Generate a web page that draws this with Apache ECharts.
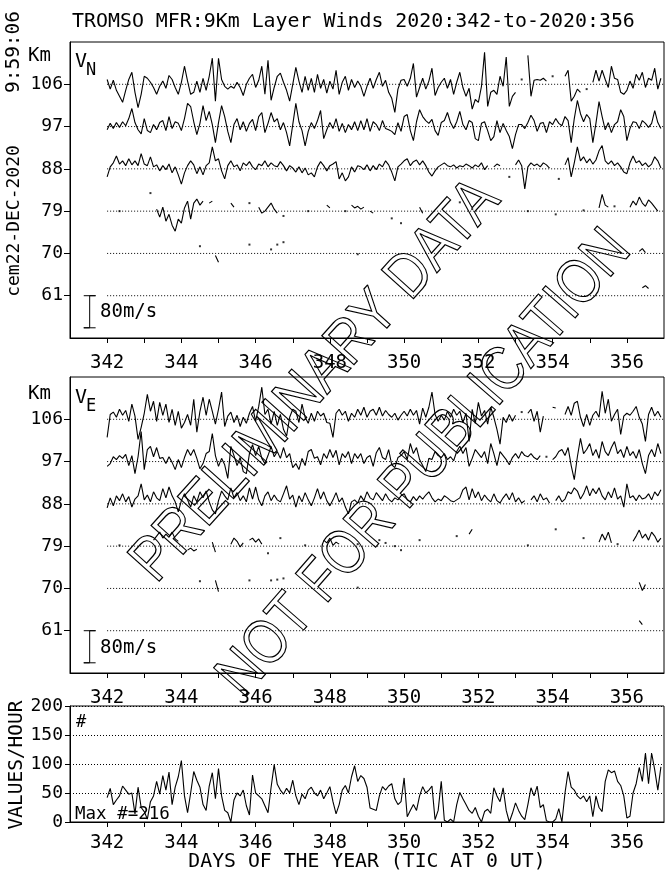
<!DOCTYPE html>
<html><head><meta charset="utf-8">
<script src="https://cdn.jsdelivr.net/npm/echarts@6/dist/echarts.min.js"></script>
<style>html,body{margin:0;padding:0;background:#fff}#c{width:672px;height:877px}</style>
</head><body><div id="c"></div>
<script>
const n = null;
// ---- axes / categories ----
const DAY_START = 342;              // first sample (day of year)
const SAMPLES_PER_DAY = 12;         // 2-hour samples
const DAY_MIN = 341, DAY_MAX = 357;
const DAY_TICKS = [342,343,344,345,346,347,348,349,350,351,352,353,354,355,356];
const DAY_LABELS = [342,344,346,348,350,352,354,356];
const ALT_LEVELS = [106,97,88,79,70,61];   // km
const ALT_MIN = 52, ALT_MAX = 115;
const COUNT_TICKS = [0,50,100,150,200];
const SCALE_MS = 80;                 // scale bar, m/s
const KM_PER_MS = 6.83 / 80;         // 80 m/s spans 6.83 km of the altitude axis

// ---- VN (northward wind, m/s) ----
const vn106 = [
 12,-12,10,-15,-30,-45,-15,12,30,-20,-58,-25,
 20,15,5,-8,-25,-5,8,-10,22,12,-8,-25,
 5,45,8,-25,-20,8,-20,15,-15,20,65,-42,
 65,12,-5,-12,-5,-10,5,-8,-28,0,15,25,
 -8,10,45,-25,60,-40,-8,20,28,5,-15,-42,
 0,42,8,-20,20,-15,15,-20,25,-10,12,-22,
 8,-12,35,-25,5,20,-15,12,-8,8,-5,-30,
 -5,15,-10,12,30,-5,10,-20,-35,-70,-12,10,
 12,-5,15,52,-32,-8,15,-12,8,40,-28,-8,
 5,15,-10,12,-25,5,30,-8,-30,-10,-62,-38,
 -45,-5,80,-55,-20,-15,-25,20,-5,68,-55,-30,
 -20,n,12,n,72,-30,10,12,10,15,8,n,
 20,n,n,n,20,35,-42,-30,-12,-20,n,-12,
 n,5,35,8,35,12,-8,45,15,12,-20,-25,
 -15,8,-10,25,10,30,-8,15,10,40,-12,15];
const vn97 = [
 -8,8,-5,10,-2,12,2,20,45,10,-8,-18,
 20,-10,-15,5,-8,10,15,-10,25,-5,12,8,
 -10,20,58,50,12,-20,8,52,15,38,5,-40,
 10,52,25,-12,-40,5,20,-8,12,-12,8,18,
 -10,25,35,-15,8,35,12,20,-8,10,-15,-48,
 5,58,12,-10,-48,-12,10,-5,15,40,-30,-8,
 10,-5,20,-12,8,-15,5,-8,12,-10,15,-8,
 20,-12,12,5,-10,15,-5,-8,-12,-20,10,-12,
 25,30,-10,-35,12,42,25,15,8,18,-10,-22,
 10,15,35,10,-5,12,38,5,-8,15,10,-30,
 -35,8,12,-10,-35,-25,15,-15,8,-10,-25,-55,
 -20,5,5,-5,10,28,15,-12,8,10,-15,12,
 5,20,8,2,25,15,-40,20,65,32,12,30,
 20,-40,8,62,25,-8,10,-15,5,12,42,25,
 -35,-5,12,10,-5,15,8,-2,8,40,10,-5];
const vn88 = [
 -20,5,15,32,12,20,8,25,10,20,8,38,
 12,8,30,5,10,-5,8,-2,12,-10,5,-15,
 -38,-10,8,20,10,-12,5,-15,8,15,55,20,
 25,-5,-25,8,20,5,10,-5,15,8,18,5,
 -2,12,8,20,5,15,8,5,18,8,-5,8,
 2,-8,5,-10,2,-15,-10,-20,5,18,8,-5,
 8,12,18,-25,-10,-30,-20,5,-8,8,5,-2,
 10,-5,8,-2,12,5,20,10,-8,-30,5,12,
 20,25,8,18,22,10,20,8,-8,-18,-5,5,
 10,15,8,5,10,2,8,5,12,8,2,10,
 5,15,-2,8,n,5,12,8,n,n,-20,n,
 10,22,8,-50,5,15,8,12,5,15,10,2,
 n,n,-25,n,10,28,-20,15,55,20,30,15,
 25,12,22,45,58,20,12,20,8,15,5,-8,
 -12,15,32,15,20,8,15,5,12,30,20,2];
const vn79 = [
 n,n,n,n,0,n,n,n,n,n,n,n,
 n,n,45,n,5,-15,10,-25,-8,-35,-50,-20,
 -30,8,25,-20,20,30,15,25,n,20,25,n,
 n,n,n,n,20,10,n,n,n,n,20,n,
 n,10,-5,0,10,20,5,-5,n,-12,n,n,
 n,n,n,n,n,0,n,n,n,n,n,15,
 8,n,n,n,n,0,n,15,8,12,5,10,
 n,0,-5,n,n,n,n,n,-18,n,n,-30,
 n,n,n,n,n,10,-5,n,n,n,n,n,
 n,n,n,n,n,n,22,n,n,n,5,n,
 n,n,n,n,n,n,n,n,n,n,n,n,
 n,n,n,n,0,n,n,n,n,n,n,n,
 n,-8,n,n,n,n,n,n,n,n,2,n,
 n,n,n,8,42,15,10,n,12,n,n,n,
 n,10,25,15,35,20,12,28,20,10,0,n];
const vn70 = [
 n,n,n,n,n,n,n,n,n,n,n,n,
 n,n,n,n,n,n,n,n,n,n,n,n,
 n,n,n,n,n,n,18,n,n,n,n,-5,
 -22,n,n,n,n,n,n,n,n,n,22,n,
 n,n,n,n,n,10,n,22,n,28,n,n,
 n,n,n,n,n,n,n,n,n,n,n,n,
 n,n,n,n,n,n,n,n,n,-2,n,n,
 n,n,n,n,n,n,n,n,n,n,n,n,
 n,n,n,n,n,n,n,n,n,n,n,n,
 n,n,n,n,n,n,n,n,n,n,n,n,
 n,n,n,n,n,n,n,n,n,n,n,n,
 n,n,n,n,n,n,n,n,n,n,n,n,
 n,n,n,n,n,n,n,n,n,n,n,n,
 n,n,n,n,n,n,n,n,n,n,n,n,
 n,n,n,n,5,12,2,n,n,n,n,n];
const vn61 = [
 n,n,n,n,n,n,n,n,n,n,n,n, n,n,n,n,n,n,n,n,n,n,n,n, n,n,n,n,n,n,n,n,n,n,n,n,
 n,n,n,n,n,n,n,n,n,n,n,n, n,n,n,n,n,n,n,n,n,n,n,n, n,n,n,n,n,n,n,n,n,n,n,n,
 n,n,n,n,n,n,n,n,n,n,n,n, n,n,n,n,n,n,n,n,n,n,n,n, n,n,n,n,n,n,n,n,n,n,n,n,
 n,n,n,n,n,n,n,n,n,n,n,n, n,n,n,n,n,n,n,n,n,n,n,n, n,n,n,n,n,n,n,n,n,n,n,n,
 n,n,n,n,n,n,n,n,n,n,n,n, n,n,n,n,n,n,n,n,n,n,n,n,
 n,n,n,n,n,20,25,18,n,n,n,n];

// ---- VE (eastward wind, m/s) ----
const ve106 = [
 -45,12,18,5,25,10,22,-5,38,8,-50,-20,
 15,62,20,45,-5,42,10,38,-8,25,-15,20,
 -22,-8,12,-15,50,-32,20,55,10,50,20,-12,
 25,68,-18,8,18,-8,10,-18,5,-10,15,32,
 -5,32,80,12,25,-12,20,-15,12,-25,-42,5,
 25,20,-8,38,5,-10,15,-5,20,8,15,-8,
 -10,-45,15,25,10,20,-5,15,5,25,10,30,
 5,20,25,10,30,8,22,12,5,15,-2,10,
 20,8,25,10,22,-12,28,5,30,68,12,-5,
 10,-2,20,5,25,10,20,-8,15,-55,25,-10,
 42,8,22,-12,30,5,-25,-62,5,-8,12,-5,
 10,n,18,n,15,25,-5,20,-32,8,n,n,
 30,28,n,n,12,32,10,40,45,5,-18,12,
 -15,10,20,5,70,15,50,-5,12,25,-38,8,
 15,10,20,32,5,-12,-55,12,30,8,20,5];
const ve97 = [
 -12,-5,12,5,15,8,18,-10,15,-30,12,75,
 -20,30,38,12,35,8,10,-5,12,-2,-20,5,
 -15,10,30,15,30,8,-18,-5,20,25,70,15,
 -12,8,-8,-42,38,15,-10,10,-25,-30,20,42,
 15,38,8,-5,15,38,12,25,8,35,10,20,
 -15,-5,-20,8,-10,25,30,8,12,-8,20,8,
 30,10,28,-8,20,10,25,-5,20,8,20,-5,
 10,15,-12,22,35,10,5,30,-8,-15,10,15,
 25,5,45,20,35,5,-10,-25,8,5,25,15,
 10,20,5,12,2,25,38,20,35,-12,8,30,
 20,10,25,-5,45,20,-10,25,15,5,-8,10,
 20,8,25,15,12,20,10,5,15,n,12,n,
 5,12,25,30,15,35,-10,-45,12,58,20,30,
 45,15,30,8,50,25,15,35,50,20,30,10,
 38,15,25,8,30,-5,-30,15,30,12,45,20];
const ve88 = [
 -10,15,-5,20,8,25,5,18,-8,12,20,50,
 10,22,5,30,15,8,38,15,42,20,5,-20,
 8,25,10,-8,20,5,30,15,32,5,-15,-25,
 8,32,20,10,40,15,28,8,20,5,40,12,
 42,10,-5,20,30,8,22,10,5,25,45,12,
 22,-8,20,5,28,10,-5,15,38,12,30,8,
 -5,10,28,5,15,-8,-25,5,10,2,20,8,
 30,15,10,28,18,8,25,12,5,15,10,20,
 25,10,5,18,8,20,12,22,30,15,5,12,
 8,20,15,8,5,10,15,35,42,10,38,15,
 30,8,22,12,5,25,8,2,15,25,10,28,
 5,15,2,8,n,10,20,5,25,10,15,2,
 n,8,20,5,12,30,25,40,32,12,25,45,
 20,38,25,40,20,10,30,15,40,12,20,-8,
 50,15,20,8,22,12,15,25,10,30,20,35];
const ve79 = [
 n,n,n,n,2,n,n,n,n,n,n,n,
 n,n,n,15,25,35,20,30,22,35,18,12,
 n,n,-10,-5,-12,-8,n,n,n,n,10,-15,
 n,n,n,n,5,20,12,-2,8,n,15,20,
 10,18,5,n,-18,n,n,n,20,n,n,n,
 n,n,n,n,2,n,n,n,n,n,15,8,
 20,2,10,5,n,n,n,n,n,5,n,n,
 n,n,n,n,15,n,8,n,n,0,n,-10,
 n,n,n,n,n,15,n,n,n,n,n,n,
 n,n,n,n,n,25,n,n,n,30,42,n,
 n,n,n,n,n,n,n,n,n,n,n,n,
 n,n,n,n,2,n,n,n,n,n,n,n,
 n,42,n,n,n,n,n,n,n,n,20,n,
 n,n,n,10,30,15,35,8,n,5,n,n,
 n,n,12,25,40,20,30,15,35,25,10,20];
const ve70 = [
 n,n,n,n,n,n,n,n,n,n,n,n,
 n,n,n,n,n,n,n,n,n,n,n,n,
 n,n,n,n,n,n,18,n,n,n,n,20,
 -8,n,n,n,n,n,n,n,n,n,20,n,
 n,n,n,n,n,20,n,22,n,25,n,n,
 n,n,n,n,n,n,n,n,n,n,n,n,
 n,n,n,n,n,n,n,n,n,2,n,n,
 n,n,n,n,n,n,n,n,n,n,n,n,
 n,n,n,n,n,n,n,n,n,n,n,n,
 n,n,n,n,n,n,n,n,n,n,n,n,
 n,n,n,n,n,n,n,n,n,n,n,n,
 n,n,n,n,n,n,n,n,n,n,n,n,
 n,n,n,n,n,n,n,n,n,n,n,n,
 n,n,n,n,n,n,n,n,n,n,n,n,
 n,n,n,n,15,-5,10,n,n,n,n,n];
const ve61 = [
 n,n,n,n,n,n,n,n,n,n,n,n, n,n,n,n,n,n,n,n,n,n,n,n, n,n,n,n,n,n,n,n,n,n,n,n,
 n,n,n,n,n,n,n,n,n,n,n,n, n,n,n,n,n,n,n,n,n,n,n,n, n,n,n,n,n,n,n,n,n,n,n,n,
 n,n,n,n,n,n,n,n,n,n,n,n, n,n,n,n,n,n,n,n,n,n,n,n, n,n,n,n,n,n,n,n,n,n,n,n,
 n,n,n,n,n,n,n,n,n,n,n,n, n,n,n,n,n,n,n,n,n,n,n,n, n,n,n,n,n,n,n,n,n,n,n,n,
 n,n,n,n,n,n,n,n,n,n,n,n, n,n,n,n,n,n,n,n,n,n,n,n,
 n,n,n,n,25,15,n,n,n,n,n,n];

// ---- values per hour ----
const counts = [
 42,58,30,38,45,62,55,48,50,14,60,25,
 18,5,35,45,70,48,80,55,86,30,60,78,
 106,45,16,50,87,72,60,30,20,62,85,40,
 92,45,20,16,0,38,50,45,55,28,12,81,
 50,45,40,28,16,60,99,65,55,48,58,50,
 72,45,30,48,40,55,60,50,45,55,40,50,
 61,35,14,30,55,63,50,78,97,70,80,75,
 60,24,22,20,45,61,55,62,66,40,30,35,
 76,9,20,30,20,45,61,50,55,62,4,20,
 70,3,0,5,0,30,51,40,30,20,15,25,
 10,0,18,22,15,59,45,35,59,20,0,15,
 33,20,10,4,30,59,45,62,25,30,2,0,
 0,5,23,0,50,87,60,55,45,40,45,35,
 45,9,45,25,18,70,90,85,88,70,63,45,
 7,10,50,66,94,70,119,66,119,90,55,95];

// ---------------------------------------------------------------
const FONT = '"DejaVu Sans Mono","Liberation Mono",monospace';
const dayOf = i => DAY_START + i / SAMPLES_PER_DAY;

function tracePoints(arr, alt) {
  return arr.map((v, i) => [dayOf(i), v == null ? '-' : alt + v * KM_PER_MS]);
}
function isolatedPoints(arr, alt) {
  const out = [];
  arr.forEach((v, i) => {
    if (v != null && arr[i - 1] == null && arr[i + 1] == null) out.push([dayOf(i), alt + v * KM_PER_MS]);
  });
  return out;
}

const LINE = { color: '#000', width: 1.1 };
const series = [];
function addWindPanel(k, traces) {
  ALT_LEVELS.forEach(a => {
    series.push({ type: 'line', xAxisIndex: k, yAxisIndex: k, data: [[DAY_START, a], [DAY_MAX, a]],
      symbol: 'none', silent: true, z: 1, lineStyle: { color: '#000', width: 1, type: [1, 2] } });
  });
  traces.forEach(([alt, arr]) => {
    series.push({ type: 'line', xAxisIndex: k, yAxisIndex: k, data: tracePoints(arr, alt),
      symbol: 'none', connectNulls: false, silent: true, z: 3, lineStyle: LINE });
    const iso = isolatedPoints(arr, alt);
    if (iso.length) series.push({ type: 'scatter', xAxisIndex: k, yAxisIndex: k, data: iso,
      symbol: 'rect', symbolSize: 2, silent: true, z: 3, itemStyle: { color: '#000' } });
  });
  // 80 m/s scale bar at the 61 km level
  const base = ALT_LEVELS[ALT_LEVELS.length - 1];
  const low = base - SCALE_MS * KM_PER_MS;
  series.push({ type: 'line', xAxisIndex: k, yAxisIndex: k, symbol: 'none', silent: true, z: 3,
    lineStyle: { color: '#000', width: 1 },
    data: [[341.37, base], [341.69, base], [341.53, base], [341.53, low], [341.37, low], [341.69, low]] });
}
addWindPanel(0, [[106, vn106], [97, vn97], [88, vn88], [79, vn79], [70, vn70], [61, vn61]]);
addWindPanel(1, [[106, ve106], [97, ve97], [88, ve88], [79, ve79], [70, ve70], [61, ve61]]);
series.push({ type: 'line', xAxisIndex: 2, yAxisIndex: 2, symbol: 'none', silent: true, z: 3,
  lineStyle: LINE, data: counts.map((v, i) => [dayOf(i), v]) });

const gridBase = { left: 70, width: 594, show: true, borderColor: '#000', borderWidth: 1,
  backgroundColor: 'transparent', containLabel: false, outerBoundsMode: 'none' };
const grids = [
  Object.assign({}, gridBase, { top: 42, height: 296 }),
  Object.assign({}, gridBase, { top: 377, height: 296 }),
  Object.assign({}, gridBase, { top: 706, height: 116 })
];
const xAxes = [0, 1, 2].map(k => ({
  type: 'value', gridIndex: k, min: DAY_MIN, max: DAY_MAX, interval: 1,
  axisLine: { show: true, lineStyle: { color: '#000', width: 1 } },
  axisTick: { show: true, inside: false, length: 5, customValues: DAY_TICKS, lineStyle: { color: '#000' } },
  axisLabel: { show: true, customValues: DAY_LABELS, margin: k < 2 ? 16 : 12, color: '#000', fontFamily: FONT, fontSize: 19 },
  splitLine: { show: false }
}));
const yAxes = [0, 1].map(k => ({
  type: 'value', gridIndex: k, min: ALT_MIN, max: ALT_MAX,
  axisLine: { show: true, lineStyle: { color: '#000', width: 1 } },
  axisTick: { show: true, inside: false, length: 6, customValues: ALT_LEVELS, lineStyle: { color: '#000' } },
  axisLabel: { show: true, customValues: ALT_LEVELS, margin: 7, color: '#000', fontFamily: FONT, fontSize: 18 },
  splitLine: { show: false }
}));
yAxes.push({
  type: 'value', gridIndex: 2, min: COUNT_TICKS[0], max: COUNT_TICKS[COUNT_TICKS.length - 1], interval: 50,
  axisLine: { show: true, lineStyle: { color: '#000', width: 1 } },
  axisTick: { show: true, inside: false, length: 5, lineStyle: { color: '#000' } },
  axisLabel: { show: true, margin: 7, color: '#000', fontFamily: FONT, fontSize: 18 },
  splitLine: { show: true, lineStyle: { color: '#000', width: 1, type: [1, 2] } }
});

function txt(text, x, y, size, opts) {
  return Object.assign({ type: 'text', x, y, z: 50, silent: true,
    style: Object.assign({ text, fill: '#000', font: size + 'px ' + FONT,
      textAlign: 'left', textVerticalAlign: 'middle' }, (opts && opts.style) || {}) },
    (opts && opts.el) || {});
}
const WM_FONT = '"Liberation Sans Narrow","Liberation Sans",sans-serif';
const graphic = [
  txt('TROMSO MFR:9Km Layer Winds 2020:342-to-2020:356', 72, 22, 19.9),
  txt('9:59:06', 14, 52, 19.5, { style: { textAlign: 'center' }, el: { rotation: Math.PI / 2 } }),
  txt('cem22-DEC-2020', 14, 221, 18, { style: { textAlign: 'center' }, el: { rotation: Math.PI / 2 } }),
  txt('Km', 28, 56, 19),
  txt('Km', 28, 394, 19),
  txt('V', 75, 62, 20),
  txt('N', 86, 71, 17),
  txt('V', 75, 398, 20),
  txt('E', 86, 407, 17),
  txt('80m/s', 100, 312, 19),
  txt('80m/s', 100, 648, 19),
  txt('#', 76, 723, 17),
  txt('Max #=216', 75, 814, 17.5),
  txt('VALUES/HOUR', 17, 765, 19.5, { style: { textAlign: 'center' }, el: { rotation: Math.PI / 2 } }),
  txt('DAYS OF THE YEAR (TIC AT 0 UT)', 367, 862, 19.8, { style: { textAlign: 'center' } }),
  { type: 'text', x: 316, y: 381, z: 60, silent: true, rotation: 48 * Math.PI / 180, scaleX: 0.9, scaleY: 1.05,
    style: { text: 'PRELIMINARY DATA', font: '60px ' + WM_FONT, fill: 'transparent', stroke: '#000',
      lineWidth: 1.2, textAlign: 'center', textVerticalAlign: 'middle' } },
  { type: 'text', x: 425, y: 464, z: 60, silent: true, rotation: 49 * Math.PI / 180, scaleX: 0.87, scaleY: 1.05,
    style: { text: 'NOT FOR PUBLICATION', font: '60px ' + WM_FONT, fill: 'transparent', stroke: '#000',
      lineWidth: 1.2, textAlign: 'center', textVerticalAlign: 'middle' } }
];

const chart = echarts.init(document.getElementById('c'), null, { renderer: 'canvas' });
chart.setOption({
  animation: false,
  backgroundColor: '#fff',
  grid: grids, xAxis: xAxes, yAxis: yAxes, series, graphic
});
</script></body></html>
